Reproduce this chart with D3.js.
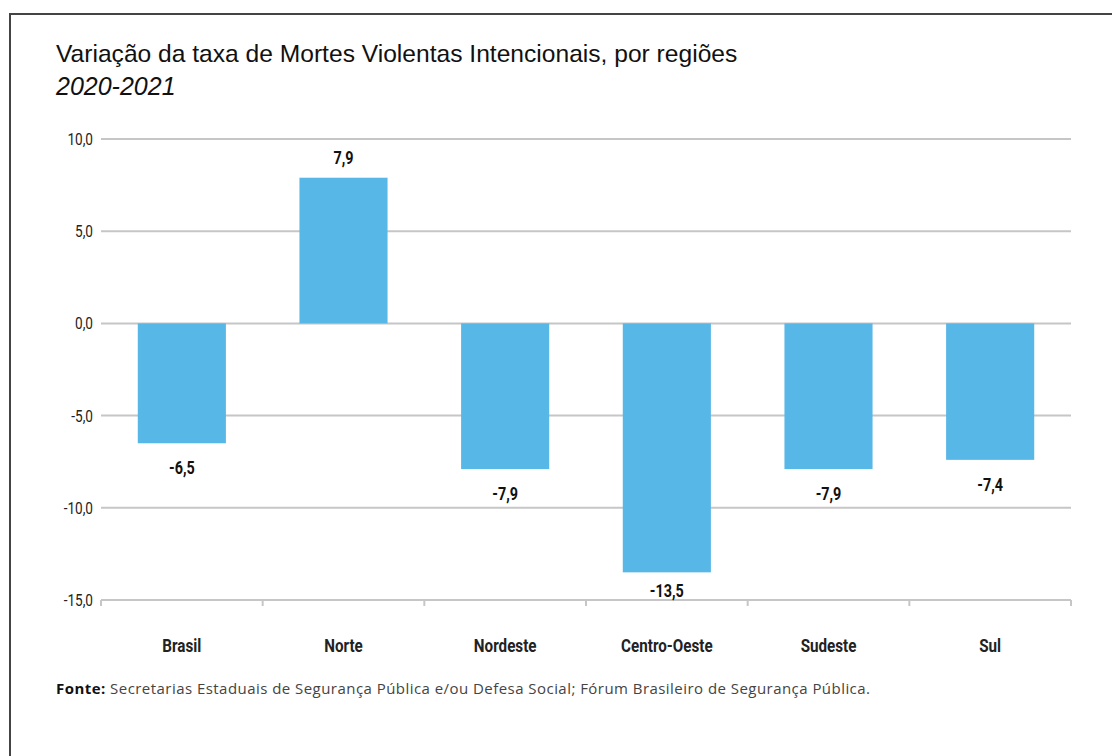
<html>
<head>
<script src="https://d3js.org/d3.v7.min.js"></script>
<style>
  body { margin: 0; background: white; }
  .narrow { font-family: "Roboto", "Liberation Sans", sans-serif; }
</style>
</head>
<body>
<svg width="1112" height="756"></svg>
<script>
var regions = ["Brasil", "Norte", "Nordeste", "Centro-Oeste", "Sudeste", "Sul"];
var variation = [-6.5, 7.9, -7.9, -13.5, -7.9, -7.4];
var yTicks = [10, 5, 0, -5, -10, -15];

var svg = d3.select("svg");
var fmt = function(v) { return d3.format(".1f")(v).replace(".", ",").replace("−", "-"); };

// condensed look: squeeze text horizontally
function narrowText(sel, px, py) {
  return sel.append("g")
    .attr("transform", function(d, i) { return "translate(" + px(d, i) + "," + py(d, i) + ") scale(0.8,1)"; })
    .append("text").attr("class", "narrow");
}

// frame
svg.append("path")
  .attr("d", "M10,760 L10,14 L1120,14")
  .attr("fill", "none").attr("stroke", "#444").attr("stroke-width", 2);

svg.append("text").attr("x", 56).attr("y", 62)
  .style("font", "24.6px 'Liberation Sans', sans-serif").attr("fill", "#111")
  .text("Variação da taxa de Mortes Violentas Intencionais, por regiões");
svg.append("text").attr("x", 56).attr("y", 95)
  .style("font", "italic 25px 'Liberation Sans', sans-serif").attr("fill", "#111")
  .text("2020-2021");

var left = 101, right = 1071;
var x = d3.scaleBand().domain(regions).range([left, right]).paddingInner(0.455).paddingOuter(0.2275);
var xb = d3.scaleBand().domain(regions).range([left, right]);
var y = d3.scaleLinear().domain([-15, 10]).range([600, 139]);

// gridlines
svg.append("g").selectAll("line").data(yTicks).enter().append("line")
  .attr("x1", left).attr("x2", right)
  .attr("y1", function(d) { return y(d); }).attr("y2", function(d) { return y(d); })
  .attr("stroke", "#c6c6c6").attr("stroke-width", 2);

narrowText(svg.append("g").selectAll("g").data(yTicks).enter(),
    function() { return 93; }, function(d) { return y(d) + 6; })
  .attr("text-anchor", "end").attr("font-size", 17).attr("fill", "#222")
  .text(fmt);

// bottom ticks
var bt = regions.map(function(r) { return xb(r); }).concat([right]);
svg.append("g").selectAll("line").data(bt).enter().append("line")
  .attr("x1", function(d) { return d; }).attr("x2", function(d) { return d; })
  .attr("y1", y(-15)).attr("y2", y(-15) + 6)
  .attr("stroke", "#c6c6c6").attr("stroke-width", 2);

svg.append("g").selectAll("rect").data(variation).enter().append("rect")
  .attr("x", function(d, i) { return x(regions[i]); })
  .attr("width", x.bandwidth())
  .attr("y", function(d) { return y(Math.max(0, d)); })
  .attr("height", function(d) { return Math.abs(y(d) - y(0)); })
  .attr("fill", "#57b7e7");

narrowText(svg.append("g").selectAll("g").data(variation).enter(),
    function(d, i) { return x(regions[i]) + x.bandwidth() / 2; },
    function(d) { return d >= 0 ? y(d) - 14 : Math.min(y(d) + 31, y(-15) - 3); })
  .attr("text-anchor", "middle").attr("font-size", 18).attr("font-weight", "bold").attr("fill", "#111")
  .text(fmt);

narrowText(svg.append("g").selectAll("g").data(regions).enter(),
    function(d) { return xb(d) + xb.bandwidth() / 2; }, function() { return 652; })
  .attr("text-anchor", "middle").attr("font-size", 19).attr("font-weight", "bold").attr("fill", "#222")
  .text(function(d) { return d; });

var src = svg.append("text").attr("x", 56).attr("y", 694)
  .attr("textLength", 814).attr("lengthAdjust", "spacing")
  .style("font", "15px 'Open Sans', 'Liberation Sans', sans-serif").attr("fill", "#444");
src.append("tspan").attr("font-weight", "bold").attr("fill", "#111").text("Fonte:");
src.append("tspan").text(" Secretarias Estaduais de Segurança Pública e/ou Defesa Social; Fórum Brasileiro de Segurança Pública.");
</script>
</body>
</html>
